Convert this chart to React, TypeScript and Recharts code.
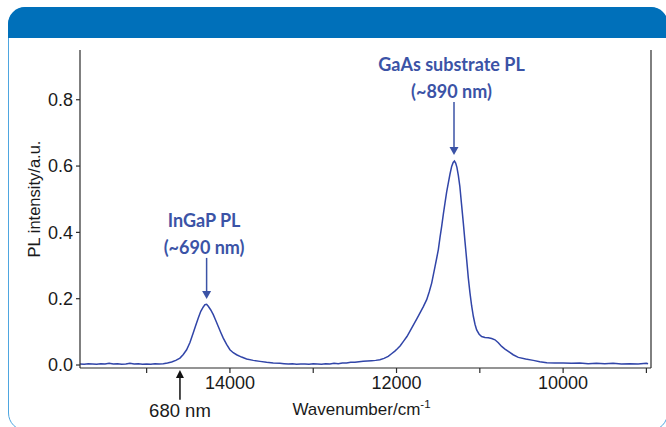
import { LineChart, Line, XAxis, YAxis, ReferenceLine } from "recharts";

// PL spectrum (wavenumber in cm-1, intensity in a.u.)
const WAVENUMBER = [
  15800, 15750, 15700, 15650, 15600, 15550, 15500, 15450, 15400, 15350,
  15300, 15250, 15200, 15150, 15100, 15050, 15000, 14950, 14900, 14850,
  14800, 14750, 14700, 14650, 14600, 14560, 14520, 14480, 14440, 14410,
  14380, 14350, 14320, 14300, 14280, 14260, 14230, 14200, 14170, 14140,
  14110, 14080, 14040, 14000, 13960, 13920, 13860, 13800, 13720, 13640,
  13560, 13480, 13400, 13350, 13300, 13250, 13200, 13150, 13100, 13050,
  13000, 12950, 12900, 12850, 12800, 12750, 12700, 12650, 12600, 12550,
  12500, 12450, 12400, 12350, 12300, 12250, 12200, 12150, 12100, 12060,
  12020, 11990, 11955, 11915, 11875, 11835, 11795, 11755, 11718, 11678,
  11638, 11608, 11578, 11558, 11538, 11518, 11498, 11478, 11458, 11438,
  11418, 11398, 11378, 11358, 11338, 11320, 11305, 11290, 11275, 11258,
  11240, 11220, 11198, 11178, 11158, 11138, 11118, 11098, 11078, 11058,
  11038, 11008, 10978, 10938, 10898, 10858, 10818, 10778, 10738, 10698,
  10658, 10600, 10538, 10450, 10358, 10280, 10196, 10100, 10000, 9900,
  9800, 9700, 9600, 9500, 9400, 9300, 9200, 9100, 9000, 8980,
];
const INTENSITY = [
  0.003, 0.002, 0.004, 0.003, 0.002, 0.004, 0.003, 0.005, 0.003, 0.004,
  0.002, 0.003, 0.005, 0.003, 0.004, 0.002, 0.003, 0.002, 0.004, 0.003,
  0.004, 0.006, 0.009, 0.014, 0.021, 0.032, 0.046, 0.068, 0.097, 0.12,
  0.142, 0.162, 0.175, 0.182, 0.183, 0.177, 0.166, 0.152, 0.134, 0.116,
  0.098, 0.081, 0.062, 0.046, 0.037, 0.031, 0.024, 0.018, 0.014, 0.011,
  0.008, 0.006, 0.005, 0.004, 0.003, 0.004, 0.002, 0.003, 0.003, 0.002,
  0.004, 0.003, 0.002, 0.004, 0.003, 0.005, 0.004, 0.006, 0.006, 0.008,
  0.008, 0.01, 0.011, 0.012, 0.013, 0.014, 0.016, 0.02, 0.026, 0.034,
  0.042, 0.049, 0.058, 0.072, 0.086, 0.104, 0.122, 0.14, 0.157, 0.176,
  0.197, 0.22, 0.247, 0.272, 0.297, 0.322, 0.348, 0.385, 0.418, 0.455,
  0.489, 0.522, 0.549, 0.576, 0.599, 0.611, 0.615, 0.609, 0.596, 0.572,
  0.539, 0.486, 0.428, 0.372, 0.318, 0.262, 0.217, 0.178, 0.147, 0.123,
  0.106, 0.093, 0.086, 0.083, 0.082, 0.08, 0.076, 0.067, 0.056, 0.048,
  0.041, 0.031, 0.023, 0.018, 0.014, 0.01, 0.007, 0.006, 0.006, 0.005,
  0.006, 0.004, 0.005, 0.004, 0.005, 0.003, 0.004, 0.003, 0.005, 0.004,
];

const X_TICKS = [15000, 14000, 13000, 12000, 11000, 10000, 9000];
const X_LABELED = [14000, 12000, 10000];
const Y_TICKS = [0, 0.2, 0.4, 0.6, 0.8];

const X_MIN = 8945;
const X_MAX = 15800;

const data = WAVENUMBER.map((wn, i) => ({ wn, pl: INTENSITY[i] }));

const AXIS = "#2b2b2b";
const LINE = "#3145a8";
const NOTE = "#3b53a6";
const NOTE_FONT = "Lato, 'Open Sans', sans-serif";

// blue arrow pointing down at a peak, two lines of bold text above it
function peakArrow(lines: string[]) {
  return (p: any) => {
    const { x1, y1, x2, y2 } = p;
    return (
      <g>
        <line x1={x1} y1={y1} x2={x2} y2={y2 - 7} stroke={NOTE} strokeWidth={1.5} />
        <polygon points={`${x2 - 4.5},${y2 - 8} ${x2 + 4.5},${y2 - 8} ${x2},${y2}`} fill={NOTE} />
        {lines.map((t, i) => (
          <text
            key={t}
            x={x1 - 2.5}
            y={y1 - 31 + i * 27}
            textAnchor="middle"
            fill={NOTE}
            fontFamily={NOTE_FONT}
            fontWeight={700}
            fontSize={18}
          >
            {t}
          </text>
        ))}
      </g>
    );
  };
}

function markerArrow(p: any) {
  const { x1, y1, x2, y2 } = p;
  return (
    <g>
      <line x1={x1} y1={y1} x2={x2} y2={y2 + 7} stroke="#111" strokeWidth={1.5} />
      <polygon points={`${x2 - 4},${y2 + 8} ${x2 + 4},${y2 + 8} ${x2},${y2}`} fill="#111" />
      <text x={x1} y={y1 + 17} textAnchor="middle" fill="#1a1a1a" fontSize={18.5}>
        680 nm
      </text>
    </g>
  );
}

export default function App() {
  return (
    <div
      style={{
        position: "absolute",
        left: 0,
        top: 0,
        width: 666,
        height: 427,
        overflow: "hidden",
        background: "#fff",
        fontFamily: "'Liberation Sans', Arial, sans-serif",
      }}
    >
      <div
        style={{
          position: "absolute",
          left: 8,
          top: 7,
          width: 660,
          height: 424,
          boxSizing: "border-box",
          border: "1.5px solid #4ea6e0",
          borderRadius: 18,
        }}
      />
      <div
        style={{
          position: "absolute",
          left: 8,
          top: 7,
          width: 660,
          height: 31,
          background: "#0070ba",
          borderRadius: "17px 17px 0 0",
        }}
      />
      <div style={{ position: "absolute", left: 0, top: 0 }}>
        <LineChart width={666} height={427} data={data} margin={{ top: 50, right: 15, bottom: 0, left: 0 }}>
          <XAxis
            dataKey="wn"
            type="number"
            domain={[X_MIN, X_MAX]}
            reversed
            allowDataOverflow
            ticks={X_TICKS}
            interval={0}
            tickFormatter={(v: number) => (X_LABELED.includes(v) ? `${v}` : "")}
            height={59}
            stroke={AXIS}
            strokeWidth={1.2}
            tickSize={5}
            tickMargin={3}
            tick={{ fill: "#1a1a1a", fontSize: 18 }}
            label={{
              content: ({ viewBox }: any) => (
                <text
                  x={viewBox.x + viewBox.width / 2 - 4}
                  y={viewBox.y + 47}
                  textAnchor="middle"
                  fill="#1a1a1a"
                  fontSize={17}
                >
                  Wavenumber/cm
                  <tspan fontSize={11.5} dy={-7}>
                    -1
                  </tspan>
                </text>
              ),
            }}
          />
          <YAxis
            type="number"
            domain={[-0.009, 0.95]}
            ticks={Y_TICKS}
            interval={0}
            allowDataOverflow
            tickFormatter={(v: number) => v.toFixed(1)}
            width={80}
            stroke={AXIS}
            strokeWidth={1.2}
            tickSize={4}
            tickMargin={3}
            tick={{ fill: "#1a1a1a", fontSize: 18 }}
            label={{
              content: ({ viewBox }: any) => {
                const cx = viewBox.x + 34;
                const cy = viewBox.y + viewBox.height / 2 - 10;
                return (
                  <text
                    x={cx}
                    y={cy}
                    transform={`rotate(-90 ${cx} ${cy})`}
                    textAnchor="middle"
                    dominantBaseline="central"
                    fill="#1a1a1a"
                    fontSize={16.5}
                  >
                    PL intensity/a.u.
                  </text>
                );
              },
            }}
          />
          <ReferenceLine x={X_MIN} stroke={AXIS} strokeWidth={1.2} ifOverflow="visible" />
          <Line
            dataKey="pl"
            type="linear"
            stroke={LINE}
            strokeWidth={1.5}
            dot={false}
            isAnimationActive={false}
          />
          <ReferenceLine
            segment={[{ x: 14280, y: 0.323 }, { x: 14280, y: 0.199 }]}
            ifOverflow="visible"
            shape={peakArrow(["InGaP PL", "(~690 nm)"])}
          />
          <ReferenceLine
            segment={[{ x: 11310, y: 0.793 }, { x: 11310, y: 0.633 }]}
            ifOverflow="visible"
            shape={peakArrow(["GaAs substrate PL", "(~890 nm)"])}
          />
          <ReferenceLine
            segment={[{ x: 14600, y: -0.105 }, { x: 14600, y: -0.015 }]}
            ifOverflow="visible"
            shape={markerArrow}
          />
        </LineChart>
      </div>
    </div>
  );
}
